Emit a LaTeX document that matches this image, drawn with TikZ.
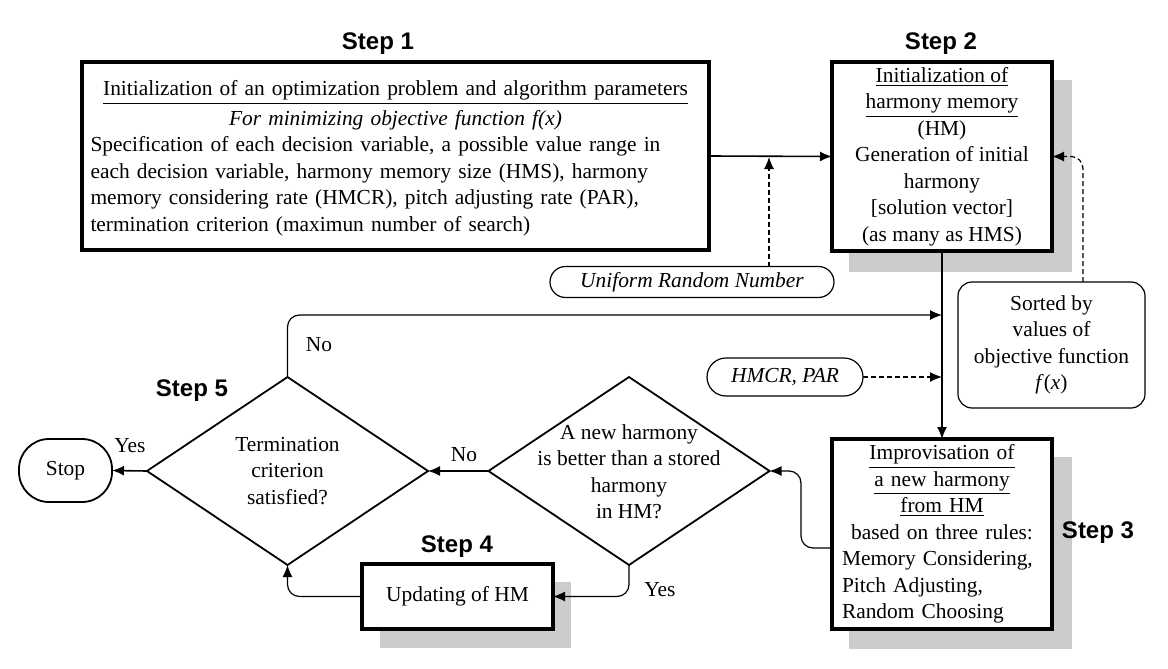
\documentclass[tikz,border=0pt]{standalone}
\usepackage{fontspec}
\setmainfont{Liberation Serif}
\newfontfamily\stepfont{Liberation Sans}
\usetikzlibrary{shapes.geometric,arrows.meta,calc}
\begin{document}
\begin{tikzpicture}[x=0.5pt,y=-0.5pt,
  every node/.style={font=\fontsize{10.7}{13.25}\selectfont, inner sep=0pt, outer sep=0pt},
  stepbox/.style={draw, line width=1.7pt, fill=white},
  steplabel/.style={font=\stepfont\bfseries\fontsize{12}{14}\selectfont},
  pill/.style={draw, line width=0.6pt, fill=white},
  conn/.style={line width=0.8pt, -{Latex[length=6pt,width=5pt]}},
  thinconn/.style={line width=0.6pt, -{Latex[length=6pt,width=5pt]}},
  dconn/.style={line width=0.6pt, dash pattern=on 2.5pt off 1.5pt, -{Latex[length=6pt,width=5pt]}},
  decision/.style={diamond, draw, line width=0.9pt, minimum width=140.5pt, minimum height=94pt},
  shade/.style={fill=black!20, draw=none}
]
\useasboundingbox (0,0) rectangle (1168,669);

% shadows
\fill[shade] (849,80) rectangle (1072,272);
\fill[shade] (849,457) rectangle (1072,649);
\fill[shade] (380,582) rectangle (571,648);

% step labels
\node[steplabel] (l1) at (378,44) {Step 1};
\node[steplabel] (l2) at (941,44) {Step 2};
\node[steplabel] (l3) at (1098,533) {Step 3};
\node[steplabel] (l4) at (457,547) {Step 4};
\node[steplabel] (l5) at (192,391) {Step 5};

% Step 1
\node[stepbox, minimum width=313.5pt, minimum height=94pt] (s1) at (395.5,156) {};
\node[text width=305pt] (s1t) at (395.5,158) {{\centering\underline{Initialization of an optimization problem and algorithm parameters}\\[1.5pt]
\textit{For minimizing objective function f(x)}\par}
\raggedright Specification of each decision variable, a possible value range in\\
each decision variable, harmony memory size (HMS), harmony\\
memory considering rate (HMCR), pitch adjusting rate (PAR),\\
termination criterion (maximun number of search)};

% Step 2
\node[stepbox, minimum width=110pt, minimum height=94.5pt] (s2) at (942,156.5) {};
\node[align=center] (s2t) at (s2.center) {\underline{Initialization of}\\ \underline{harmony memory}\\ (HM)\\ Generation of initial\\ harmony\\ {[}solution vector{]}\\ (as many as HMS)};

% Step 3
\node[stepbox, minimum width=110pt, minimum height=95pt] (s3) at (942,534) {};
\node[text width=100pt] (s3t) at (s3.center) {{\centering\underline{Improvisation of}\\ \underline{a new harmony}\\ \underline{from HM}\\ based on three rules:\par}
\raggedright Memory Considering,\\ Pitch Adjusting,\\ Random Choosing};

% Step 4
\node[stepbox, minimum width=95.5pt, minimum height=32.5pt] (s4) at (457.5,596.5) {Updating of HM};

% Stop
\node[draw, line width=0.9pt, rounded corners=15pt, minimum width=46.5pt, minimum height=31.5pt] (stop) at (65.5,470.5) {Stop};

% decisions
\node[decision] (d1) at (287.5,471) {};
\node[align=center] (d1t) at (287.5,471) {Termination\\ criterion\\ satisfied?};
\node[decision] (d2) at (629,471) {};
\node[align=center] (d2t) at (629,471.5) {A new harmony\\ is better than a stored\\ harmony\\ in HM?};

% inputs
\node[pill, rounded corners=7.75pt, minimum width=142pt, minimum height=15.5pt] (uni) at (692,282) {\textit{Uniform Random Number}};
\node[pill, rounded corners=9.5pt, minimum width=78pt, minimum height=19pt] (hm) at (785,377) {\textit{HMCR, PAR}};
\node[pill, rounded corners=7pt, minimum width=93.5pt, minimum height=63pt, align=center] (sorted) at (1051.5,345) {Sorted by\\ values of\\ objective function\\ \textit{f}(\textit{x})};

% junctions
\coordinate (j0) at (769,157);
\coordinate (j1) at (942,315);
\coordinate (j2) at (942,377);
\coordinate (k) at ($(sorted.north)+(31.5,0)$);

% connectors
\draw[conn] (s1.east) -- (s2.west);
\draw[dconn] (uni.north -| j0) -- (j0);
\draw[conn] (s2.south) -- (s3.north);
\draw[dconn] (hm.east) -- (j2);
\draw[dconn, rounded corners=6pt] (k) |- (s2.east);
\draw[thinconn, rounded corners=6pt] (d1.north) |- (j1);
\draw[thinconn, rounded corners=6pt] ($(s3.west)+(0,14)$) -- ++(-31,0) |- (d2.east);
\draw[conn] (d2.west) -- (d1.east);
\draw[conn] (d1.west) -- (stop.east);
\draw[thinconn, rounded corners=6pt] (d2.south) |- (s4.east);
\draw[thinconn, rounded corners=6pt] (s4.west) -| (d1.south);

% labels
\node (no1) at (319,345) {No};
\node (no2) at (464,455) {No};
\node (yes1) at (130,446) {Yes};
\node (yes2) at (660,590) {Yes};
\end{tikzpicture}
\end{document}
